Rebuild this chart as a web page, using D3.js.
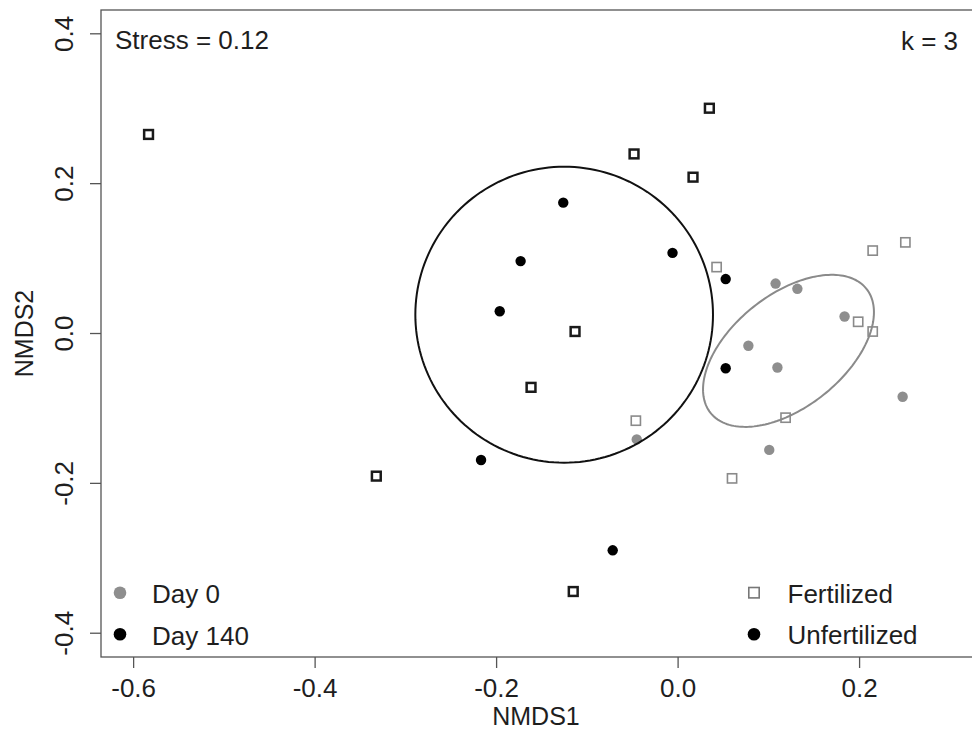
<!DOCTYPE html>
<html>
<head>
<meta charset="utf-8">
<script src="https://cdn.jsdelivr.net/npm/d3@7"></script>
<style>
  html, body { margin: 0; padding: 0; background: #fff; }
  svg { display: block; }
  text { font-family: "Liberation Sans", Arial, sans-serif; fill: #1e1e1e; }
</style>
</head>
<body>
<svg id="chart" width="972" height="747"></svg>
<script>
// NMDS site scores, split by sampling day and fertilization treatment
const day140Fertilized = [
  [-0.583, 0.265], [0.035, 0.300], [-0.048, 0.239], [0.017, 0.208],
  [-0.113, 0.002], [-0.1615, -0.0725], [-0.332, -0.191], [-0.115, -0.345]
];
const day140Unfertilized = [
  [-0.126, 0.174], [-0.173, 0.096], [-0.196, 0.029], [-0.0056, 0.107],
  [0.053, 0.072], [0.053, -0.047], [-0.2166, -0.1695], [-0.0715, -0.290]
];
const day0Fertilized = [
  [0.043, 0.088], [0.199, 0.015], [0.215, 0.002], [-0.046, -0.117],
  [0.119, -0.113], [0.060, -0.194], [0.215, 0.110], [0.251, 0.121]
];
const day0Unfertilized = [
  [0.108, 0.066], [0.132, 0.059], [0.184, 0.022], [0.078, -0.017],
  [0.110, -0.046], [0.248, -0.085], [-0.045, -0.142], [0.101, -0.156]
];

// Group dispersion ellipses: centre and the two semi-axis vectors (NMDS units)
const ellipseDay140 = { center: [-0.125, 0.0244], u: [0.164, 0], v: [0, 0.1975] };
const ellipseDay0   = { center: [0.1222, -0.0238], u: [0.0859, 0.0828], v: [0.0386, -0.0587] };

const xTicks = [-0.6, -0.4, -0.2, 0.0, 0.2];
const yTicks = [-0.4, -0.2, 0.0, 0.2, 0.4];
const xDomain = [-0.6354, 0.3263];
const yDomain = [-0.4324, 0.4311];

const stressLabel = "Stress = 0.12";
const kLabel = "k = 3";
const dayLegend = ["Day 0", "Day 140"];
const treatmentLegend = ["Fertilized", "Unfertilized"];

const GRAY = "#8e8e8e";
const BLACK = "#000";

const svg = d3.select("#chart");
const box = { left: 101, right: 973.7, top: 10, bottom: 657 };

const x = d3.scaleLinear().domain(xDomain).range([box.left, box.right]);
const y = d3.scaleLinear().domain(yDomain).range([box.bottom, box.top]);

// axes (R-style: ticks outside, labels below / rotated at left)
const fmt = d => d3.format(".1f")(d).replace("−", "-");
const xAxis = d3.axisBottom(x).tickValues(xTicks).tickSize(11).tickPadding(0);
const yAxis = d3.axisLeft(y).tickValues(yTicks).tickSize(11).tickPadding(0);

const gx = svg.append("g").attr("transform", `translate(0,${box.bottom})`).call(xAxis);
gx.select(".domain").remove();
gx.selectAll(".tick line").attr("stroke", "#555").attr("stroke-width", 1.3);
gx.selectAll(".tick text")
  .attr("y", 40).attr("dy", null)
  .style("font-size", "26px").style("font-family", '"Liberation Sans", Arial, sans-serif')
  .attr("fill", "#1e1e1e")
  .text(fmt);

const gy = svg.append("g").attr("transform", `translate(${box.left},0)`).call(yAxis);
gy.select(".domain").remove();
gy.selectAll(".tick line").attr("stroke", "#555").attr("stroke-width", 1.3);
gy.selectAll(".tick text")
  .attr("x", null).attr("dy", null)
  .attr("text-anchor", "middle")
  .attr("transform", "translate(-27.7,0) rotate(-90)")
  .style("font-size", "26px").style("font-family", '"Liberation Sans", Arial, sans-serif')
  .attr("fill", "#1e1e1e")
  .text(fmt);

// plot frame
svg.append("rect")
  .attr("x", box.left).attr("y", box.top)
  .attr("width", box.right - box.left).attr("height", box.bottom - box.top)
  .attr("fill", "none").attr("stroke", "#555").attr("stroke-width", 1.3);

// axis titles
svg.append("text")
  .attr("x", 536).attr("y", 725)
  .attr("text-anchor", "middle").style("font-size", "25px")
  .text("NMDS1");
svg.append("text")
  .attr("transform", `translate(33.3,${(box.top + box.bottom) / 2}) rotate(-90)`)
  .attr("text-anchor", "middle").style("font-size", "25px")
  .text("NMDS2");

// points
const plot = svg.append("g");

function drawSquares(data, color, width, side) {
  plot.selectAll(null).data(data).enter().append("rect")
    .attr("x", d => x(d[0]) - side / 2).attr("y", d => y(d[1]) - side / 2)
    .attr("width", side).attr("height", side)
    .attr("fill", "none").attr("stroke", color).attr("stroke-width", width);
}
function drawDots(data, color, r) {
  plot.selectAll(null).data(data).enter().append("circle")
    .attr("cx", d => x(d[0])).attr("cy", d => y(d[1])).attr("r", r)
    .attr("fill", color);
}

drawDots(day0Unfertilized, GRAY, 5.2);
drawSquares(day0Fertilized, "#8a8a8a", 1.6, 9.2);
drawDots(day140Unfertilized, BLACK, 5.2);
drawSquares(day140Fertilized, "#1a1a1a", 2.5, 8.8);

// ellipses
function ellipsePath(e) {
  const pts = d3.range(0, 181).map(i => {
    const t = (i / 180) * 2 * Math.PI;
    return [
      e.center[0] + e.u[0] * Math.cos(t) + e.v[0] * Math.sin(t),
      e.center[1] + e.u[1] * Math.cos(t) + e.v[1] * Math.sin(t)
    ];
  });
  return d3.line().x(d => x(d[0])).y(d => y(d[1])).curve(d3.curveLinearClosed)(pts);
}
svg.append("path").attr("d", ellipsePath(ellipseDay140))
  .attr("fill", "none").attr("stroke", "#111").attr("stroke-width", 2);
svg.append("path").attr("d", ellipsePath(ellipseDay0))
  .attr("fill", "none").attr("stroke", "#8a8a8a").attr("stroke-width", 2);

// corner annotations
svg.append("text").attr("x", 115).attr("y", 49).style("font-size", "26px").text(stressLabel);
svg.append("text").attr("x", 958).attr("y", 50).attr("text-anchor", "end")
  .style("font-size", "26px").text(kLabel);

// legend: sampling day (bottom left)
const dayColors = [GRAY, BLACK];
const rowY = [592.7, 634.3];
dayLegend.forEach((lab, i) => {
  svg.append("circle").attr("cx", 120).attr("cy", rowY[i]).attr("r", 6.3).attr("fill", dayColors[i]);
  svg.append("text").attr("x", 152).attr("y", rowY[i] + 10.5).style("font-size", "26px").text(lab);
});

// legend: treatment (bottom right)
svg.append("rect").attr("x", 754 - 5.2).attr("y", rowY[0] - 5.2).attr("width", 10.4).attr("height", 10.4)
  .attr("fill", "none").attr("stroke", "#777").attr("stroke-width", 1.6);
svg.append("circle").attr("cx", 754).attr("cy", rowY[1]).attr("r", 6.3).attr("fill", BLACK);
treatmentLegend.forEach((lab, i) => {
  svg.append("text").attr("x", 787.5).attr("y", rowY[i] + 10).style("font-size", "26px").text(lab);
});
</script>
</body>
</html>
